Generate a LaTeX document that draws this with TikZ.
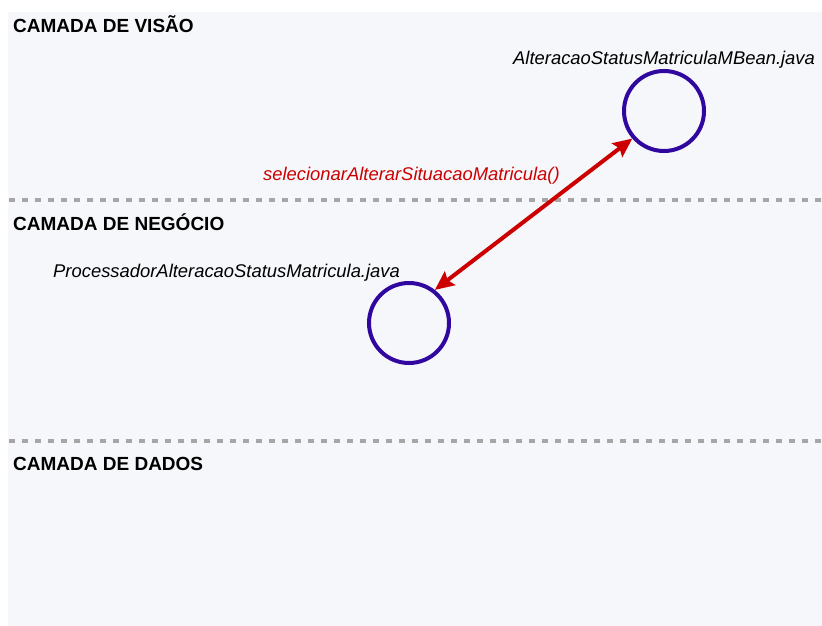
\documentclass[tikz,border=0pt]{standalone}
\usepackage{fontspec}
\setmainfont{Liberation Sans}
\usepackage{xcolor}
\usepackage{tikz}
\usetikzlibrary{arrows.meta, positioning}

\definecolor{painel}{RGB}{246,247,251}
\definecolor{classe}{RGB}{48,8,160}
\definecolor{chamada}{RGB}{204,0,0}
\definecolor{divisa}{RGB}{166,166,166}

\begin{document}
\begin{tikzpicture}[x=1pt, y=-1pt,
    camada/.style={anchor=base west, inner sep=0pt, font=\fontsize{19}{21}\selectfont\bfseries},
    arquivo/.style={anchor=base west, inner sep=0pt, font=\fontsize{18.4}{20}\selectfont\itshape},
    objeto/.style={circle, draw=classe, line width=4pt, minimum size=80pt, inner sep=0pt},
    divisao/.style={divisa, line width=4pt, dash pattern=on 6pt off 7pt}]
    % 1. Fundo
    \useasboundingbox (0,0) rectangle (822,626);
    \fill[painel] (8,12) rectangle (822,626);

    % 2. Camadas
    \node[camada] (hdrVisao) at (13,33) {CAMADA DE VISÃO};
    \draw[divisao] (9,200) -- (822,200);
    \node[camada] (hdrNegocio) at (13,230.5) {CAMADA DE NEGÓCIO};
    \draw[divisao] (9,441) -- (822,441);
    \node[camada] (hdrDados) at (13,470) {CAMADA DE DADOS};

    % 3. Objetos
    \node[objeto] (mbean) at (664,111) {};
    \node[objeto] (proc) at (409,323) {};
    \node[arquivo] (lblMBean) at (513,65) {AlteracaoStatusMatriculaMBean.java};
    \node[arquivo] (lblProc) at (53,277) {ProcessadorAlteracaoStatusMatricula.java};

    % 4. Chamada
    \draw[chamada, line width=4pt, {Stealth[length=19pt, width=17pt, inset=3pt]}-{Stealth[length=19pt, width=17pt, inset=3pt]}]
        (proc.52) -- (mbean.221);
    \node[arquivo, text=chamada] (lblMetodo) at (263,180.5) {selecionarAlterarSituacaoMatricula()};
\end{tikzpicture}
\end{document}
